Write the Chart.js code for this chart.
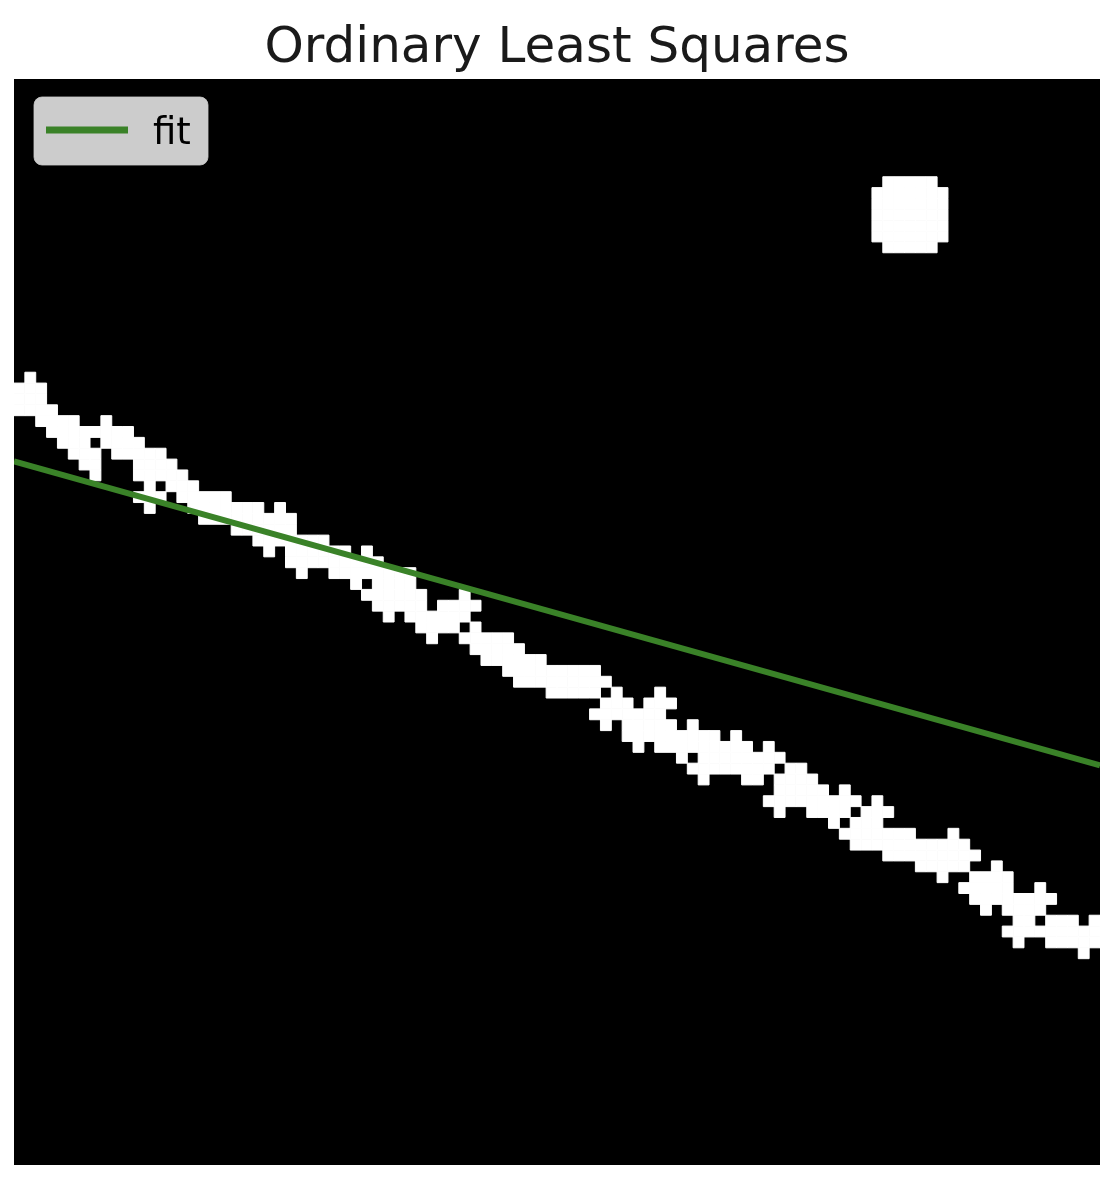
<!DOCTYPE html>
<html>
<head>
<meta charset="utf-8">
<script src="https://cdn.jsdelivr.net/npm/chart.js@4.4.1/dist/chart.umd.min.js"></script>
<style>
  html, body { margin: 0; background: #ffffff; }
  #wrap { width: 1110px; height: 1178px; }
</style>
</head>
<body>
<div id="wrap"><canvas id="olsChart"></canvas></div>
<script>
// 100 x 100 binary image, white cells given as runs [firstCol, lastCol] per row
const imgSize = 100;

// noisy line, starting at row 27
const bandTop = 27;
const bandRuns = [
    [[1, 1]],                       // 27
    [[0, 2]],                       // 28
    [[0, 2]],                       // 29
    [[0, 3]],                       // 30
    [[2, 5], [8, 8]],               // 31
    [[3, 10]],                      // 32
    [[4, 6], [8, 11]],              // 33
    [[5, 7], [9, 13]],              // 34
    [[6, 7], [11, 14]],             // 35
    [[7, 7], [11, 15]],             // 36
    [[12, 12], [14, 16]],           // 37
    [[11, 13], [15, 19]],           // 38
    [[12, 12], [16, 22], [24, 24]], // 39
    [[17, 25]],                     // 40
    [[20, 25]],                     // 41
    [[22, 28]],                     // 42
    [[23, 23], [25, 30], [32, 32]], // 43
    [[25, 33]],                     // 44
    [[26, 26], [29, 36]],           // 45
    [[31, 31], [33, 36]],           // 46
    [[32, 37], [41, 41]],           // 47
    [[33, 37], [39, 42]],           // 48
    [[34, 34], [36, 41]],           // 49
    [[37, 40], [42, 42]],           // 50
    [[38, 38], [41, 45]],           // 51
    [[42, 46]],                     // 52
    [[43, 48]],                     // 53
    [[45, 53]],                     // 54
    [[46, 54]],                     // 55
    [[49, 53], [55, 55], [59, 59]], // 56
    [[54, 56], [58, 60]],           // 57
    [[53, 59]],                     // 58
    [[54, 54], [56, 60], [62, 62]], // 59
    [[56, 64], [66, 66]],           // 60
    [[57, 57], [59, 67], [69, 69]], // 61
    [[61, 61], [63, 70]],           // 62
    [[62, 69], [71, 72]],           // 63
    [[63, 63], [67, 68], [70, 73]], // 64
    [[70, 74], [76, 76]],           // 65
    [[69, 77], [79, 79]],           // 66
    [[70, 70], [73, 76], [78, 80]], // 67
    [[75, 75], [77, 79]],           // 68
    [[76, 82], [86, 86]],           // 69
    [[77, 87]],                     // 70
    [[80, 88]],                     // 71
    [[83, 87], [90, 90]],           // 72
    [[85, 85], [88, 91]],           // 73
    [[87, 91], [94, 94]],           // 74
    [[88, 95]],                     // 75
    [[89, 89], [91, 94]],           // 76
    [[92, 93], [95, 97], [99, 99]], // 77
    [[91, 99]],                     // 78
    [[92, 92], [95, 99]],           // 79
    [[98, 98]]                      // 80
];

// round blob (outlier) in the top right
const blobTop = 9;
const blobRuns = [
    [[80, 84]],
    [[79, 85]],
    [[79, 85]],
    [[79, 85]],
    [[79, 85]],
    [[79, 85]],
    [[80, 84]]
];

// OLS fit line, end points at the image edges
const fitX = [-0.5, 99.5];
const fitY = [34.7, 62.7];
const fitLabel = 'fit';
const titleText = 'Ordinary Least Squares';

function runsToCells(top, runs) {
    const cells = [];
    runs.forEach((row, i) => {
        row.forEach(([a, b]) => {
            for (let c = a; c <= b; c++) cells.push({ x: c, y: top + i });
        });
    });
    return cells;
}

const whiteCells = runsToCells(bandTop, bandRuns).concat(runsToCells(blobTop, blobRuns));
const fitPoints = fitX.map((x, i) => ({ x: x, y: fitY[i] }));

const FIT_GREEN = '#3a8228';

// black image background
const imageBackground = {
    id: 'imageBackground',
    beforeDatasetsDraw(chart) {
        const { ctx, chartArea } = chart;
        ctx.save();
        ctx.fillStyle = '#000000';
        ctx.fillRect(chartArea.left, chartArea.top, chartArea.right - chartArea.left, chartArea.bottom - chartArea.top);
        ctx.restore();
    }
};

// matplotlib style legend box in the upper left
const fitLegend = {
    id: 'fitLegend',
    afterDraw(chart) {
        const { ctx, chartArea } = chart;
        const ds = chart.data.datasets[0];
        const x0 = chartArea.left + 20;
        const y0 = chartArea.top + 18;
        ctx.save();
        ctx.fillStyle = 'rgba(255,255,255,0.8)';
        ctx.strokeStyle = 'rgba(204,204,204,0.8)';
        ctx.lineWidth = 1;
        ctx.beginPath();
        ctx.roundRect(x0, y0, 174, 68, 8);
        ctx.fill();
        ctx.stroke();

        ctx.strokeStyle = ds.borderColor;
        ctx.lineWidth = 7;
        ctx.beginPath();
        ctx.moveTo(x0 + 12, y0 + 33);
        ctx.lineTo(x0 + 94, y0 + 33);
        ctx.stroke();

        ctx.fillStyle = '#000000';
        ctx.font = '37px "DejaVu Sans"';
        ctx.textBaseline = 'alphabetic';
        ctx.fillText(ds.label, x0 + 119, y0 + 47);
        ctx.restore();
    }
};

const cellRadius = ctx => {
    const xs = ctx.chart.scales.x;
    return Math.abs(xs.getPixelForValue(1) - xs.getPixelForValue(0)) * Math.SQRT1_2;
};

new Chart(document.getElementById('olsChart'), {
    type: 'scatter',
    data: {
        datasets: [
            {
                type: 'line',
                label: fitLabel,
                data: fitPoints,
                borderColor: FIT_GREEN,
                borderWidth: 6,
                pointRadius: 0,
                fill: false,
                tension: 0
            },
            {
                label: 'image',
                data: whiteCells,
                pointStyle: 'rect',
                pointRadius: cellRadius,
                backgroundColor: '#ffffff',
                borderColor: '#ffffff',
                borderWidth: 1
            }
        ]
    },
    options: {
        responsive: true,
        maintainAspectRatio: false,
        animation: false,
        devicePixelRatio: 1,
        events: [],
        layout: { padding: { left: 14, right: 10, top: 0, bottom: 13 } },
        plugins: {
            legend: { display: false },
            tooltip: { enabled: false },
            title: {
                display: true,
                text: titleText,
                color: '#1a1a1a',
                font: { family: '"DejaVu Sans"', size: 50, weight: 'normal', lineHeight: 1.2 },
                padding: { top: 19, bottom: 0 }
            }
        },
        scales: {
            x: { type: 'linear', min: -0.5, max: imgSize - 0.5, display: false },
            y: { type: 'linear', min: -0.5, max: imgSize - 0.5, reverse: true, display: false }
        }
    },
    plugins: [imageBackground, fitLegend]
});
</script>
</body>
</html>
